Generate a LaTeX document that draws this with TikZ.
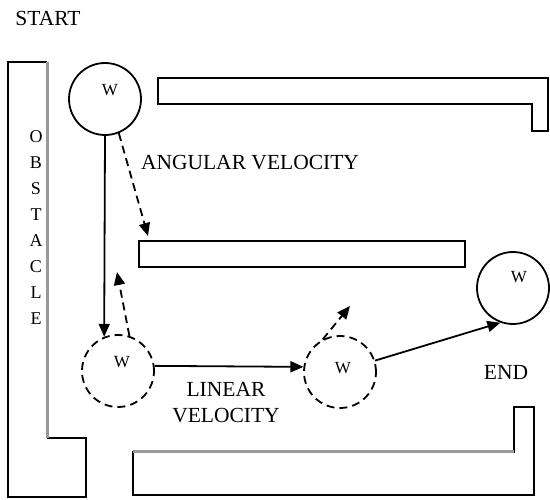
\documentclass[tikz,border=0pt]{standalone}
\usepackage{fontspec}
\setmainfont{Liberation Serif}
\usetikzlibrary{arrows.meta}

\begin{document}
\begin{tikzpicture}[x=1pt,y=-1pt,line width=1.8pt,
  wheel/.style={draw,circle,minimum size=72pt,inner sep=0pt},
  ghost/.style={wheel,dash pattern=on 8pt off 5pt},
  track/.style={dash pattern=on 8pt off 5pt},
  lbl/.style={font=\fontsize{21.5}{26}\selectfont},
  wlbl/.style={font=\fontsize{17}{18}\selectfont},
  olbl/.style={font=\fontsize{18}{20}\selectfont},
  >={Triangle[length=13pt,width=11pt]}]
  \useasboundingbox (0,0) rectangle (550,500);
  % walls
  \draw (47,62) -- (8,62) -- (8,497) -- (86,497) -- (86,438) -- (47,438);
  \draw[gray!80,line width=3pt] (47,62) -- (47,438);
  \draw (158,78) -- (548,78) -- (548,131) -- (532,131) -- (532,104) -- (158,104) -- cycle;
  \draw (139,241) rectangle (465,267);
  \draw (133,452) -- (514,452) -- (514,407) -- (534,407) -- (534,495) -- (133,495) -- cycle;
  \draw[gray!80,line width=3pt] (133,452) -- (514,452);
  \foreach \c [count=\i from 0] in {O,B,S,T,A,C,L,E}
    \node[olbl] (ob\i) at (36,{137+26*\i}) {\c};
  % robot positions
  \node[wheel] (start) at (105,99) {};
  \node[wlbl] (wstart) at (110,90) {W};
  \node[ghost] (turn) at (118,371) {};
  \node[wlbl] (wturn) at (122,362) {W};
  \node[ghost] (drive) at (340,372) {};
  \node[wlbl] (wdrive) at (343,368) {W};
  \node[wheel] (goal) at (513,288) {};
  \node[wlbl] (wgoal) at (519,277) {W};
  \coordinate (aimbar) at (148,236);
  \coordinate (aimback) at (117,272);
  \coordinate (aimup) at (350,306);
  % motion
  \draw[->] (start.south) -- (turn.112);
  \draw[->,track] (start.-68) -- (aimbar);
  \draw[->,track] (turn.72) -- (aimback);
  \draw[->] (turn.8) -- (drive.172);
  \draw[->,track] (drive.118) -- (aimup);
  \draw[->] (drive.18) -- (goal.-110);
  % labels
  \node[lbl] (startlbl) at (48,18) {START};
  \node[lbl] (angular) at (250,163) {ANGULAR VELOCITY};
  \node[lbl,align=center] (linear) at (226,403) {LINEAR\\VELOCITY};
  \node[lbl] (endlbl) at (506,372) {END};
\end{tikzpicture}
\end{document}
